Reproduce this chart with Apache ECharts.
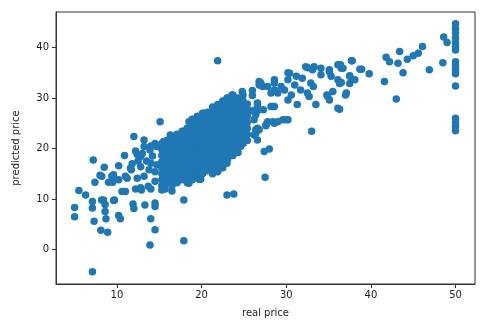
<html>
<head>
    <meta charset="utf-8">
    <title>real vs predicted price</title>
    <script src="https://cdn.jsdelivr.net/npm/echarts@6.0.0/dist/echarts.min.js"></script>
    <style>
        html, body { margin: 0; padding: 0; background: #fff; }
    </style>
</head>
<body>
    <div id="main" style="width: 487px;height:328px"></div>
    <script>
        // points, [real price, predicted price]
        var xTicks = [10, 20, 30, 40, 50];
        var yTicks = [0, 10, 20, 30, 40];

        var lowTail = [
            [5.0, 8.3], [5.0, 6.5], [5.5, 11.7], [6.3, 10.8], [7.1, 9.5], [7.1, 8.2], [7.3, 5.6], [7.1, -4.4],
            [8.2, 9.8], [8.6, 8.9], [8.6, 7.5], [8.7, 6.1], [8.1, 3.8], [8.9, 3.4], [9.7, 9.8], [10.2, 6.7],
            [10.4, 6.1], [11.9, 9.0], [12.0, 8.1], [13.3, 8.8], [14.5, 9.2], [14.5, 8.5], [14.0, 6.1], [14.5, 3.9],
            [13.9, 0.9], [17.9, 9.8], [17.9, 1.7], [23.0, 10.8], [23.8, 11.0], [27.5, 14.3], [7.2, 17.7], [8.5, 16.3],
            [8.0, 14.7], [7.4, 13.3], [9.6, 9.7], [8.4, 9.8]
        ];

        var midLeft = [
            [10.9, 18.6], [10.2, 16.6], [9.6, 14.8], [9.0, 13.3], [9.5, 13.3], [11.2, 14.1], [11.7, 15.8], [12.2, 12.0],
            [12.4, 18.8], [11.0, 11.5], [12.9, 11.8], [14.0, 12.0], [15.3, 11.8], [16.5, 11.6], [15.7, 12.0], [10.2, 13.8],
            [11.0, 14.5], [9.4, 14.5], [8.2, 14.5], [10.6, 11.5], [12.8, 12.2], [13.7, 12.5], [12.0, 22.4], [13.2, 20.4],
            [14.0, 20.5], [14.7, 20.4], [12.8, 18.4], [12.8, 16.4], [14.0, 17.1], [14.5, 15.4], [13.2, 14.5], [12.4, 14.1],
            [14.5, 13.5], [13.5, 17.5], [13.0, 19.0], [14.2, 18.5], [13.8, 15.8], [12.5, 17.5], [11.8, 17.0], [12.2, 19.5],
            [14.5, 21.0], [13.2, 21.7], [11.6, 16.1], [13.9, 19.7], [14.7, 16.8], [15.7, 17.8], [15.5, 21.4], [16.3, 22.7],
            [17.1, 22.7], [15.1, 25.3], [18.5, 13.1], [19.7, 13.9]
        ];

        var denseCluster = [
            [15.3, 12.6], [15.3, 13.8], [15.3, 15.0], [15.3, 16.2], [15.3, 17.4], [15.3, 18.6], [15.3, 19.8], [15.3, 21.0],
            [15.9, 13.2], [15.9, 14.4], [15.9, 15.6], [15.9, 16.8], [15.9, 18.0], [15.9, 19.2], [15.9, 20.4], [15.9, 21.6],
            [16.5, 12.6], [16.5, 13.8], [16.5, 15.0], [16.5, 16.2], [16.5, 17.4], [16.5, 18.6], [16.5, 19.8], [16.5, 21.0], [16.5, 22.2],
            [17.1, 13.2], [17.1, 14.4], [17.1, 15.6], [17.1, 16.8], [17.1, 18.0], [17.1, 19.2], [17.1, 20.4], [17.1, 21.6], [17.1, 22.8],
            [17.7, 13.8], [17.7, 15.0], [17.7, 16.2], [17.7, 17.4], [17.7, 18.6], [17.7, 19.8], [17.7, 21.0], [17.7, 22.2], [17.7, 23.4],
            [18.3, 13.2], [18.3, 14.4], [18.3, 15.6], [18.3, 16.8], [18.3, 18.0], [18.3, 19.2], [18.3, 20.4], [18.3, 21.6], [18.3, 22.8], [18.3, 24.0],
            [18.9, 13.8], [18.9, 15.0], [18.9, 16.2], [18.9, 17.4], [18.9, 18.6], [18.9, 19.8], [18.9, 21.0], [18.9, 22.2], [18.9, 23.4], [18.9, 24.6], [18.9, 25.8],
            [19.5, 14.4], [19.5, 15.6], [19.5, 16.8], [19.5, 18.0], [19.5, 19.2], [19.5, 20.4], [19.5, 21.6], [19.5, 22.8], [19.5, 24.0], [19.5, 25.2], [19.5, 26.4],
            [20.1, 15.0], [20.1, 16.2], [20.1, 17.4], [20.1, 18.6], [20.1, 19.8], [20.1, 21.0], [20.1, 22.2], [20.1, 23.4], [20.1, 24.6], [20.1, 25.8], [20.1, 27.0],
            [20.7, 15.6], [20.7, 16.8], [20.7, 18.0], [20.7, 19.2], [20.7, 20.4], [20.7, 21.6], [20.7, 22.8], [20.7, 24.0], [20.7, 25.2], [20.7, 26.4],
            [21.3, 15.0], [21.3, 16.2], [21.3, 17.4], [21.3, 18.6], [21.3, 19.8], [21.3, 21.0], [21.3, 22.2], [21.3, 23.4], [21.3, 24.6], [21.3, 25.8], [21.3, 27.0], [21.3, 28.2],
            [21.9, 15.6], [21.9, 16.8], [21.9, 18.0], [21.9, 19.2], [21.9, 20.4], [21.9, 21.6], [21.9, 22.8], [21.9, 24.0], [21.9, 25.2], [21.9, 26.4], [21.9, 27.6],
            [22.5, 16.2], [22.5, 17.4], [22.5, 18.6], [22.5, 19.8], [22.5, 21.0], [22.5, 22.2], [22.5, 23.4], [22.5, 24.6], [22.5, 25.8], [22.5, 27.0], [22.5, 28.2], [22.5, 29.4],
            [23.1, 18.0], [23.1, 19.2], [23.1, 20.4], [23.1, 21.6], [23.1, 22.8], [23.1, 24.0], [23.1, 25.2], [23.1, 26.4], [23.1, 27.6], [23.1, 28.8], [23.1, 30.0],
            [23.7, 18.6], [23.7, 19.8], [23.7, 21.0], [23.7, 22.2], [23.7, 23.4], [23.7, 24.6], [23.7, 25.8], [23.7, 27.0], [23.7, 28.2], [23.7, 29.4], [23.7, 30.6],
            [24.3, 19.2], [24.3, 20.4], [24.3, 21.6], [24.3, 22.8], [24.3, 24.0], [24.3, 25.2], [24.3, 26.4], [24.3, 27.6], [24.3, 28.8], [24.3, 30.0],
            [24.9, 21.0], [24.9, 22.2], [24.9, 23.4], [24.9, 24.6], [24.9, 25.8], [24.9, 27.0], [24.9, 28.2], [24.9, 29.4], [24.9, 30.6],
            [25.4, 21.6], [25.4, 22.8], [25.4, 24.0], [25.4, 25.2], [25.4, 26.4], [25.4, 27.6], [25.4, 28.8]
        ];

        var clusterEdge = [
            [18.5, 25.3], [19.3, 25.3], [20.3, 27.0], [20.7, 27.2], [21.9, 28.7], [23.0, 30.0], [23.6, 30.6], [24.8, 31.3],
            [17.9, 23.4], [18.9, 23.7], [19.5, 25.0], [21.9, 37.4], [20.5, 16.4], [21.9, 15.4], [23.0, 17.1], [24.0, 23.4],
            [24.4, 20.4], [21.7, 16.8], [19.9, 13.9], [20.0, 18.1], [24.6, 20.4], [25.0, 21.7], [26.6, 21.7], [27.4, 19.4],
            [28.0, 19.9], [26.2, 22.7], [26.8, 23.7]
        ];

        var upperBand = [
            [26.8, 33.3], [27.2, 32.3], [28.6, 33.6], [30.2, 35.0], [32.5, 36.0], [33.3, 36.2], [35.1, 35.6], [36.1, 36.6],
            [31.3, 28.7], [33.5, 28.7], [34.9, 30.3], [36.1, 28.0], [33.0, 23.4], [28.4, 28.3], [26.6, 29.0], [26.4, 27.7],
            [27.6, 24.7], [28.6, 25.0], [29.6, 25.7], [30.2, 25.7], [26.6, 24.0], [26.4, 23.0], [37.7, 37.4], [38.7, 35.7],
            [36.5, 35.9], [37.5, 34.4], [36.5, 33.1], [37.1, 31.0], [36.3, 27.8], [35.5, 31.3], [34.8, 30.6], [35.1, 29.6],
            [32.9, 33.0], [33.2, 32.3], [32.3, 36.2], [33.1, 35.6], [34.1, 35.9], [35.1, 35.2], [34.1, 34.6], [35.3, 34.3],
            [36.1, 33.6], [31.9, 33.9], [31.2, 34.3], [30.4, 34.9], [30.2, 33.6], [31.0, 32.6], [31.7, 31.6], [32.5, 31.0],
            [32.7, 30.3], [30.6, 30.6], [29.8, 31.6], [29.4, 32.3], [28.6, 33.0], [28.6, 31.6], [27.8, 32.3], [27.0, 33.0],
            [26.8, 32.6], [28.2, 31.0], [29.0, 31.0], [30.2, 29.6], [26.6, 28.7], [26.8, 27.7], [27.3, 27.7], [28.2, 28.3],
            [28.6, 28.3], [26.4, 26.7], [26.2, 25.7], [27.8, 25.3], [28.4, 25.3], [29.0, 25.3], [30.0, 25.7], [27.6, 24.5],
            [26.4, 23.7], [26.0, 30.5], [26.0, 31.5], [25.8, 27.5], [36.4, 36.6], [36.7, 35.9], [37.5, 34.3], [38.1, 33.6],
            [37.5, 32.9], [36.3, 32.9], [37.0, 30.6], [37.8, 37.4], [38.9, 35.7], [39.8, 34.8]
        ];

        var highEnd = [
            [41.8, 38.1], [42.2, 37.2], [43.4, 39.2], [43.2, 36.9], [44.3, 37.7], [45.0, 38.4], [45.6, 38.9], [46.1, 40.2],
            [48.6, 42.1], [49.0, 41.0], [48.5, 37.0], [46.9, 35.6], [43.8, 35.0], [41.6, 33.3], [43.0, 29.8]
        ];

        // the real price = 50 column
        var cappedPredicted = [44.7, 43.8, 42.9, 41.9, 41.0, 40.2, 39.5, 37.2, 36.4, 35.6, 34.8, 32.4, 26.0, 25.1, 24.4, 23.5];

        var points = [].concat(lowTail, midLeft, denseCluster, clusterEdge, upperBand, highEnd);
        for (var i = 0; i < cappedPredicted.length; i++) {
            points.push([50.0, cappedPredicted[i]]);
        }

        var myChart = echarts.init(document.getElementById('main'));

        var axisText = { color: '#222', fontSize: 10, fontFamily: 'DejaVu Sans' };

        var option = {
            animation: false,
            backgroundColor: '#fff',
            grid: {
                left: 56,
                right: 12,
                top: 12,
                bottom: 44,
                show: true,
                borderColor: '#333',
                borderWidth: 1
            },
            xAxis: {
                type: 'value',
                min: 2.8,
                max: 52.3,
                name: 'real price',
                nameLocation: 'middle',
                nameGap: 24,
                nameTextStyle: axisText,
                splitLine: { show: false },
                axisLine: { onZero: false, lineStyle: { color: '#333' } },
                axisTick: { show: true, length: 4, customValues: xTicks, lineStyle: { color: '#333' } },
                axisLabel: Object.assign({ customValues: xTicks, margin: 6 }, axisText)
            },
            yAxis: {
                type: 'value',
                min: -6.85,
                max: 47.05,
                name: 'predicted price',
                nameLocation: 'middle',
                nameGap: 35,
                nameTextStyle: axisText,
                splitLine: { show: false },
                axisLine: { show: true, onZero: false, lineStyle: { color: '#333' } },
                axisTick: { show: true, length: 4, customValues: yTicks, lineStyle: { color: '#333' } },
                axisLabel: Object.assign({ customValues: yTicks, margin: 7 }, axisText)
            },
            series: [
                {
                    type: 'scatter',
                    symbol: 'circle',
                    symbolSize: 7.5,
                    large: false,
                    itemStyle: { color: '#1f77b4', opacity: 1, borderWidth: 0 },
                    emphasis: { disabled: true },
                    data: points
                }
            ]
        };
        myChart.setOption(option);
    </script>
</body>
</html>
